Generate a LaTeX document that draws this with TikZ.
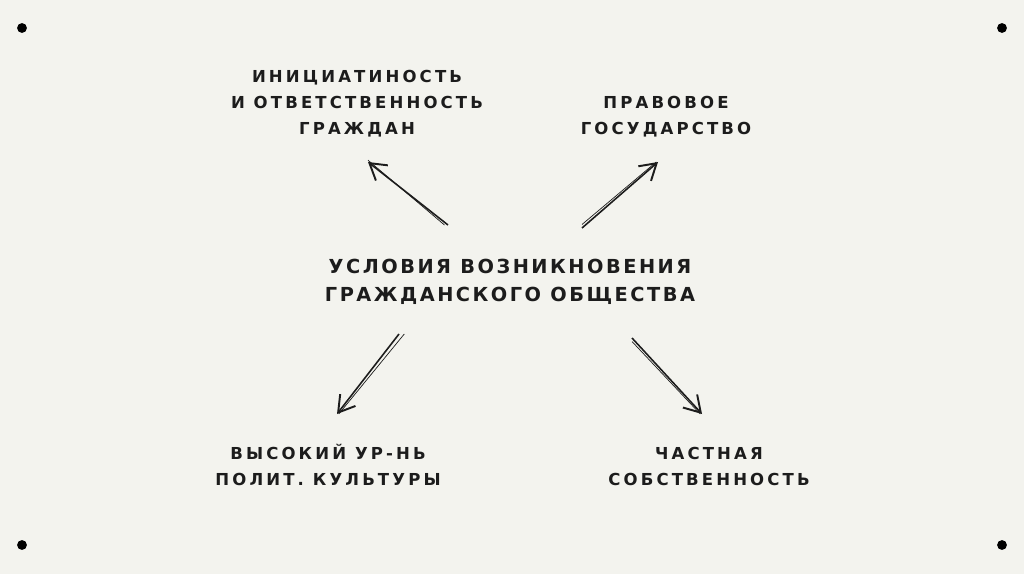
\documentclass[tikz,border=0pt]{standalone}
\usepackage{fontspec}
\setmainfont{DejaVu Sans}
\usepackage{tikz}
\usetikzlibrary{arrows.meta,positioning}
\definecolor{paper}{RGB}{243,243,238}
\definecolor{ink}{RGB}{28,28,28}

\begin{document}
\begin{tikzpicture}[
    x=0.02cm, y=-0.02cm,
    label/.style={text=ink, align=center, font=\fontsize{9.4}{14.8}\selectfont\bfseries\addfontfeatures{LetterSpace=19}},
    title/.style={text=ink, align=center, font=\fontsize{11}{16}\selectfont\bfseries\addfontfeatures{LetterSpace=13}},
    arrow/.style={-{Straight Barb[length=9pt,width=11pt,line width=1.1pt]}, line width=0.9pt, draw=ink},
    ghost/.style={line width=0.4pt, draw=ink},
    corner/.style={circle, fill=black, inner sep=0pt, minimum size=5.6pt}
]
% background and frame
\fill[paper] (0,0) rectangle (1024,574);
\useasboundingbox (0,0) rectangle (1024,574);

% corner dots
\node[corner] (dotA) at (22,28) {};
\node[corner] (dotB) at (1002,28) {};
\node[corner] (dotC) at (22,545) {};
\node[corner] (dotD) at (1002,545) {};

% centre
\node[title] (cond) at (510,282) {УСЛОВИЯ ВОЗНИКНОВЕНИЯ\\ГРАЖДАНСКОГО ОБЩЕСТВА};

% four outcomes
\node[label] (civic) at (357,104) {ИНИЦИАТИНОСТЬ\\И ОТВЕТСТВЕННОСТЬ\\ГРАЖДАН};
\node[label] (state) at (666,117) {ПРАВОВОЕ\\ГОСУДАРСТВО};
\node[label] (culture) at (328,465) {ВЫСОКИЙ УР-НЬ\\ПОЛИТ. КУЛЬТУРЫ};
\node[label] (property) at (709,466) {ЧАСТНАЯ\\СОБСТВЕННОСТЬ};

% arrow ends
\coordinate (tlS) at (448,225); \coordinate (tlE) at (368,162);
\coordinate (trS) at (582,228); \coordinate (trE) at (658,162);
\coordinate (blS) at (399,334); \coordinate (blE) at (337,414);
\coordinate (brS) at (632,338); \coordinate (brE) at (702,414);

\draw[arrow] (tlS) -- (tlE);
\draw[arrow] (trS) -- (trE);
\draw[arrow] (blS) -- (blE);
\draw[arrow] (brS) -- (brE);

% sketchy second strokes
\draw[ghost] ([xshift=-2]tlS) -- ([yshift=1]tlE);
\draw[ghost] ([yshift=2]trS) -- ([xshift=-1]trE);
\draw[ghost] ([xshift=3]blS) -- ([xshift=1]blE);
\draw[ghost] ([yshift=-2]brS) -- ([xshift=-1]brE);
\end{tikzpicture}
\end{document}
